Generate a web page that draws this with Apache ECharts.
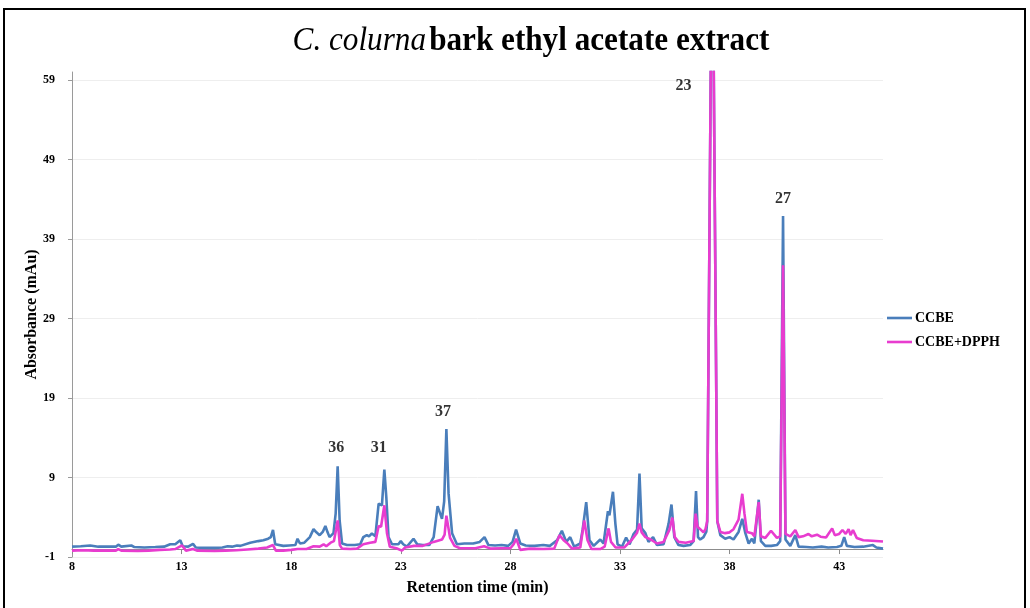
<!DOCTYPE html>
<html>
<head>
<meta charset="utf-8">
<title>C. colurna bark ethyl acetate extract</title>
<script src="https://cdn.jsdelivr.net/npm/echarts@6/dist/echarts.min.js"></script>
<style>
  html, body { margin: 0; padding: 0; background: #fff; }
  #chart { width: 1030px; height: 608px; }
</style>
</head>
<body>
<div id="chart"></div>
<script>
// Retention time (min) and absorbance (mAu) pairs for each chromatogram
const ccbe = [
  [8.0,0.3],[8.4,0.35],[8.83,0.45],[9.2,0.3],[9.6,0.3],[10.0,0.3],[10.11,0.55],[10.25,0.3],[10.71,0.45],[10.85,0.25],
  [11.3,0.2],[11.8,0.25],[12.2,0.3],[12.48,0.6],[12.71,0.6],[12.94,1.1],[13.05,0.35],[13.3,0.3],[13.52,0.65],[13.65,0.2],
  [14.0,0.15],[14.5,0.15],[14.86,0.2],[15.1,0.35],[15.3,0.3],[15.53,0.45],[15.68,0.4],[16.13,0.8],[16.5,1.0],[16.73,1.1],
  [16.95,1.3],[17.07,1.5],[17.17,2.4],[17.27,0.6],[17.35,0.4],[17.64,0.4],[17.9,0.45],[18.19,0.5],[18.29,1.3],[18.4,0.7],
  [18.6,0.8],[18.85,1.5],[19.02,2.5],[19.15,2.1],[19.3,1.75],[19.45,2.2],[19.56,2.9],[19.66,2.1],[19.75,1.5],[19.93,2.0],
  [20.03,4.5],[20.12,10.4],[20.21,3.6],[20.32,0.7],[20.55,0.5],[20.9,0.5],[21.15,0.6],[21.29,1.5],[21.45,1.75],[21.55,1.6],
  [21.68,1.95],[21.84,1.6],[21.99,5.7],[22.06,5.9],[22.14,5.5],[22.25,10.0],[22.34,6.5],[22.44,1.5],[22.6,0.6],[22.89,0.6],
  [23.0,1.0],[23.11,0.6],[23.28,0.3],[23.58,1.3],[23.75,0.6],[24.0,0.5],[24.3,0.5],[24.5,1.5],[24.68,5.4],[24.88,3.8],
  [24.98,6.0],[25.08,15.1],[25.18,7.0],[25.34,2.0],[25.56,0.6],[25.9,0.7],[26.3,0.7],[26.6,0.9],[26.82,1.5],[27.0,0.5],
  [27.3,0.45],[27.6,0.5],[27.9,0.4],[28.1,0.9],[28.26,2.45],[28.45,0.7],[28.7,0.45],[29.1,0.4],[29.5,0.5],[29.8,0.4],
  [30.13,1.1],[30.35,2.3],[30.55,0.9],[30.73,1.5],[30.91,0.3],[31.19,0.7],[31.3,2.5],[31.46,5.9],[31.61,1.1],[31.8,0.4],
  [32.1,1.2],[32.25,0.7],[32.45,4.75],[32.52,4.25],[32.68,7.2],[32.79,3.2],[32.89,0.6],[33.09,0.3],[33.28,1.45],[33.44,0.6],
  [33.62,1.9],[33.78,2.45],[33.89,9.5],[33.99,2.6],[34.16,2.0],[34.3,0.9],[34.51,1.5],[34.69,0.5],[34.99,0.6],[35.22,3.2],
  [35.35,5.6],[35.48,1.5],[35.67,0.5],[35.9,0.4],[36.2,0.5],[36.36,1.0],[36.47,7.3],[36.56,1.5],[36.66,1.2],[36.81,1.5],
  [36.94,2.2],[36.98,3.5],[37.21,84],[37.44,3.5],[37.58,1.75],[37.8,1.3],[38.0,1.5],[38.18,1.2],[38.41,2.15],[38.58,3.8],
  [38.72,2.0],[38.87,0.7],[39.02,1.3],[39.13,0.7],[39.33,6.2],[39.43,1.0],[39.63,0.4],[39.9,0.4],[40.16,0.5],[40.31,1.0],
  [40.44,41.9],[40.55,1.2],[40.77,0.4],[41.0,1.75],[41.15,0.3],[41.5,0.25],[41.8,0.2],[42.2,0.3],[42.5,0.2],[42.9,0.25],
  [43.1,0.4],[43.23,1.5],[43.35,0.4],[43.7,0.25],[44.1,0.3],[44.54,0.5],[44.7,0.2],[45.0,0.05]
];

const ccbeDpph = [
  [8.0,-0.2],[8.5,-0.15],[9.0,-0.2],[9.5,-0.2],[10.0,-0.2],[10.11,0.0],[10.25,-0.2],[11.0,-0.25],[11.5,-0.2],[12.0,-0.1],
  [12.48,-0.05],[12.71,0.0],[13.02,0.45],[13.2,-0.2],[13.52,0.0],[13.7,-0.2],[14.5,-0.25],[15.0,-0.2],[15.5,-0.15],[16.0,-0.05],
  [16.5,0.05],[16.9,0.2],[17.17,0.5],[17.3,-0.2],[17.64,-0.2],[18.0,-0.1],[18.29,0.0],[18.7,0.0],[19.02,0.35],[19.3,0.3],
  [19.48,0.6],[19.6,0.35],[19.8,0.8],[19.95,1.0],[20.05,2.5],[20.12,3.6],[20.22,0.5],[20.32,0.05],[20.7,0.0],[21.0,0.05],
  [21.29,0.6],[21.6,0.8],[21.84,0.9],[21.99,2.9],[22.1,2.8],[22.25,5.5],[22.37,2.0],[22.5,0.3],[22.8,0.1],[23.05,-0.2],
  [23.2,0.2],[23.6,0.4],[24.0,0.4],[24.5,0.9],[24.88,1.2],[25.0,1.8],[25.08,4.2],[25.25,1.4],[25.45,0.4],[25.7,0.1],
  [26.4,0.1],[26.8,0.35],[27.1,0.05],[27.6,0.1],[28.0,0.1],[28.15,0.6],[28.27,1.3],[28.45,-0.1],[28.9,0.05],[29.5,0.0],
  [30.0,0.05],[30.24,1.75],[30.43,1.1],[30.61,0.7],[30.81,0.05],[31.19,0.2],[31.37,3.6],[31.52,1.1],[31.7,0.0],[32.1,0.0],
  [32.3,0.3],[32.48,2.6],[32.59,0.9],[32.8,0.2],[33.2,0.2],[33.55,1.2],[33.78,2.05],[33.89,3.2],[33.99,2.1],[34.16,1.5],
  [34.4,1.2],[34.69,0.7],[34.99,0.9],[35.26,2.45],[35.39,3.95],[35.5,1.5],[35.67,0.9],[36.0,0.8],[36.36,1.0],[36.45,4.45],
  [36.54,2.8],[36.66,2.5],[36.81,2.1],[36.9,2.5],[36.98,3.5],[37.21,84],[37.44,3.5],[37.58,2.15],[37.8,2.0],[38.0,2.1],
  [38.18,2.5],[38.41,3.7],[38.58,6.95],[38.68,4.45],[38.79,2.15],[38.87,2.4],[39.02,2.0],[39.13,1.6],[39.33,5.9],[39.43,1.6],
  [39.63,1.4],[39.89,2.3],[40.16,1.4],[40.31,1.6],[40.44,35.7],[40.55,1.9],[40.77,1.6],[41.0,2.4],[41.15,1.5],[41.35,1.6],
  [41.6,1.9],[41.75,1.6],[41.99,1.8],[42.15,1.55],[42.4,1.45],[42.68,2.6],[42.8,1.75],[43.0,1.9],[43.15,2.4],[43.3,1.9],
  [43.43,2.5],[43.52,1.75],[43.63,2.4],[43.8,1.4],[44.1,1.1],[44.5,1.05],[45.0,0.95]
];

// Peak numbers and where each tag sits (retention time, absorbance)
const peakTags = ['36', '31', '37', '23', '27'];
const peakTagTime = [20.06, 21.99, 24.93, 35.9, 40.44];
const peakTagLevel = [12.7, 12.7, 17.2, 58.25, 44.0];

// Axis tick labels
const xTicks = [8, 13, 18, 23, 28, 33, 38, 43];
const yTicks = [-1, 9, 19, 29, 39, 49, 59];

const seriesNames = ['CCBE', 'CCBE+DPPH'];
const serif = "'Liberation Serif', 'Times New Roman', serif";

const chart = echarts.init(document.getElementById('chart'), null, { renderer: 'canvas' });

const tagData = peakTags.map((name, i) => ({ name, value: [peakTagTime[i], peakTagLevel[i]] }));

chart.setOption({
  animation: false,
  backgroundColor: '#ffffff',
  graphic: [
    {
      type: 'rect',
      shape: { x: 4, y: 9, width: 1021, height: 640 },
      style: { fill: 'none', stroke: '#000000', lineWidth: 2 },
      silent: true
    },
    {
      type: 'text',
      x: 531,
      y: 41,
      scaleX: 0.945,
      style: {
        text: '{i|C. colurna} {b|bark ethyl acetate extract}',
        align: 'center',
        verticalAlign: 'middle',
        rich: {
          i: { fontFamily: serif, fontSize: 33, fontStyle: 'italic', fontWeight: 'normal', fill: '#000' },
          b: { fontFamily: serif, fontSize: 33, fontWeight: 'bold', fill: '#000' }
        }
      },
      silent: true
    }
  ],
  legend: {
    data: seriesNames,
    orient: 'vertical',
    left: 882,
    top: 306,
    icon: 'rect',
    itemWidth: 25,
    itemHeight: 2.6,
    itemGap: 10,
    textStyle: { fontFamily: serif, fontSize: 14, fontWeight: 'bold', color: '#000', padding: [0, 0, 0, -2] }
  },
  grid: { left: 72, right: 147, top: 72, bottom: 51, containLabel: false },
  xAxis: {
    type: 'value',
    min: 8,
    max: 45,
    interval: 5,
    name: 'Retention time (min)',
    nameLocation: 'middle',
    nameGap: 23,
    nameTextStyle: { fontFamily: serif, fontSize: 16, fontWeight: 'bold', color: '#000' },
    axisLine: { onZero: true, lineStyle: { color: '#8c8c8c', width: 1 } },
    axisTick: { show: true, length: 5, customValues: xTicks, lineStyle: { color: '#8c8c8c' } },
    axisLabel: {
      customValues: xTicks,
      margin: 4,
      fontFamily: serif, fontSize: 12, fontWeight: 'bold', color: '#000'
    },
    splitLine: { show: false }
  },
  yAxis: {
    type: 'value',
    min: -1,
    max: 60,
    interval: 10,
    name: 'Absorbance (mAu)',
    nameLocation: 'middle',
    nameGap: 32,
    nameMoveOverlap: false,
    nameTextStyle: { fontFamily: serif, fontSize: 16, fontWeight: 'bold', color: '#000' },
    axisLine: { show: true, lineStyle: { color: '#9a9a9a', width: 1 } },
    axisTick: { show: true, length: 4, customValues: yTicks, lineStyle: { color: '#9a9a9a' } },
    axisLabel: {
      customValues: yTicks,
      margin: 17,
      fontFamily: serif, fontSize: 12, fontWeight: 'bold', color: '#000'
    },
    splitLine: { show: true, lineStyle: { color: '#eeeeee', width: 1 } }
  },
  series: [
    {
      name: seriesNames[0],
      type: 'line',
      data: ccbe,
      symbol: 'none',
      color: '#4a7ebb',
      lineStyle: { color: '#4a7ebb', width: 2.6 },
      clip: true,
      z: 2
    },
    {
      name: seriesNames[1],
      type: 'line',
      data: ccbeDpph,
      symbol: 'none',
      color: '#e83ccf',
      lineStyle: { color: '#e83ccf', width: 2.6 },
      clip: true,
      z: 3
    },
    {
      name: 'peaks',
      type: 'scatter',
      data: tagData,
      symbolSize: 1,
      itemStyle: { color: 'rgba(0,0,0,0)' },
      label: {
        show: true,
        position: 'inside',
        formatter: p => p.name,
        fontFamily: serif, fontSize: 16, fontWeight: 'bold', color: '#000'
      },
      silent: true,
      z: 4
    }
  ]
});
</script>
</body>
</html>
